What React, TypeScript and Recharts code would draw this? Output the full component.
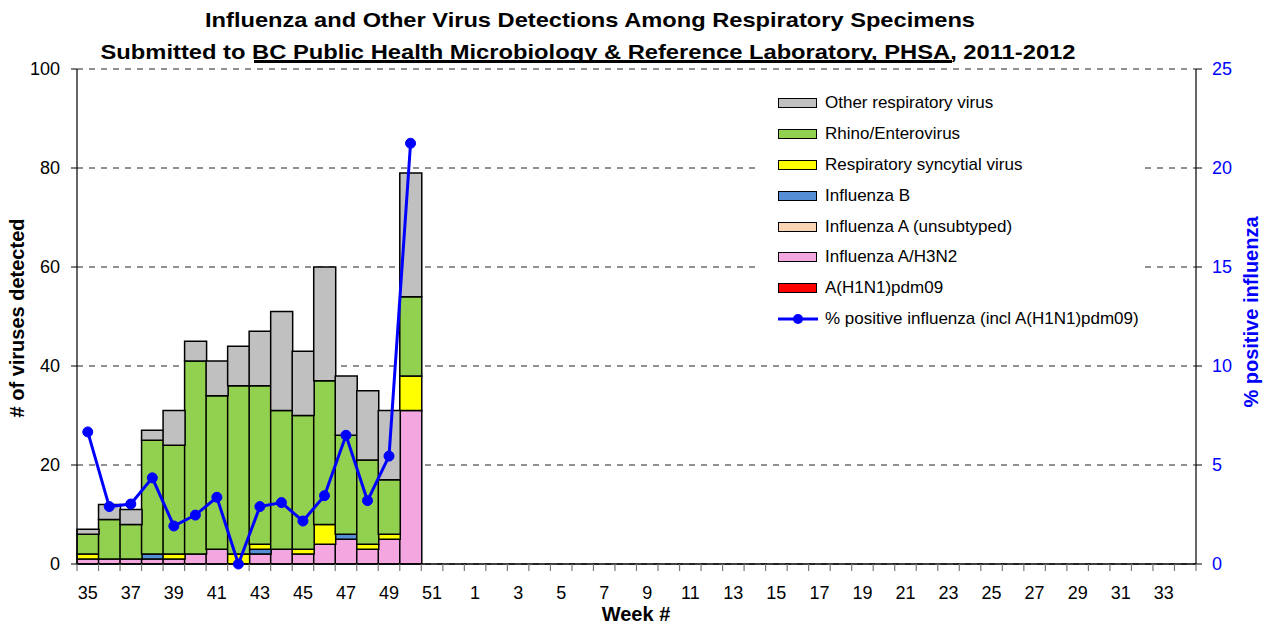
import React from 'react';
import { ComposedChart, Bar, Line, XAxis, YAxis, CartesianGrid, Legend } from 'recharts';

const weeks = [
  '35', '36', '37', '38', '39', '40', '41', '42', '43', '44', '45', '46', '47', '48', '49', '50', '51', '52',
  '1', '2', '3', '4', '5', '6', '7', '8', '9', '10', '11', '12', '13', '14', '15', '16', '17', '18', '19', '20',
  '21', '22', '23', '24', '25', '26', '27', '28', '29', '30', '31', '32', '33', '34',
];

// values for weeks 35..50 (later weeks have no data yet)
const h1n1 = [0, 0, 0, 0, 0, 0, 0, 0, 0, 0, 0, 0, 0, 0, 0, 0];
const h3n2 = [1, 1, 1, 1, 1, 2, 3, 0, 2, 3, 2, 4, 5, 3, 5, 31];
const fluAUnsub = [0, 0, 0, 0, 0, 0, 0, 0, 0, 0, 0, 0, 0, 0, 0, 0];
const fluB = [0, 0, 0, 1, 0, 0, 0, 0, 1, 0, 0, 0, 1, 0, 0, 0];
const rsv = [1, 0, 0, 0, 1, 0, 0, 2, 1, 0, 1, 4, 0, 1, 1, 7];
const rhino = [4, 8, 7, 23, 22, 39, 31, 34, 32, 28, 27, 29, 20, 17, 11, 16];
const other = [1, 3, 3, 2, 7, 4, 7, 8, 11, 20, 13, 23, 12, 14, 14, 25];
const pctPositive = [6.67, 2.9, 3.03, 4.35, 1.92, 2.47, 3.37, 0, 2.9, 3.1, 2.17, 3.45, 6.5, 3.2, 5.45, 21.25];

const leftTicks = [0, 20, 40, 60, 80, 100];
const rightTicks = [0, 5, 10, 15, 20, 25];

const series = [
  { key: 'h1n1', name: 'A(H1N1)pdm09', color: '#FF0000', values: h1n1 },
  { key: 'h3n2', name: 'Influenza A/H3N2', color: '#F3A6DF', values: h3n2 },
  { key: 'fluAUnsub', name: 'Influenza A (unsubtyped)', color: '#FBD4B4', values: fluAUnsub },
  { key: 'fluB', name: 'Influenza B', color: '#558ED5', values: fluB },
  { key: 'rsv', name: 'Respiratory syncytial virus', color: '#FFFF00', values: rsv },
  { key: 'rhino', name: 'Rhino/Enterovirus', color: '#92D050', values: rhino },
  { key: 'other', name: 'Other respiratory virus', color: '#C0C0C0', values: other },
];
const lineName = '% positive influenza (incl A(H1N1)pdm09)';

const data = weeks.map((w, i) => {
  const row: any = { week: w, pct: i < pctPositive.length ? pctPositive[i] : null };
  series.forEach((s) => {
    row[s.key] = i < s.values.length ? s.values[i] : null;
  });
  return row;
});

const W = 1266;
const H = 625;
const LEFT_W = 77;
const RIGHT_W = 70;
const TOP = 69;
const XAXIS_H = 61;
const BAND = (W - LEFT_W - RIGHT_W) / weeks.length;
const FONT = 'Liberation Sans, Arial, Helvetica, sans-serif';

const XTick = (props: any) => {
  const { x, y, payload } = props;
  const idx = payload.index;
  const axisY = y - 8;
  const half = BAND / 2;
  return (
    <g>
      <line x1={x - half} x2={x - half} y1={axisY} y2={axisY + 7} stroke="#777" strokeWidth={1.2} />
      {idx === weeks.length - 1 && (
        <line x1={x + half} x2={x + half} y1={axisY} y2={axisY + 7} stroke="#777" strokeWidth={1.2} />
      )}
      {idx % 2 === 0 && (
        <text x={x} y={axisY + 35} textAnchor="middle" fontSize={18} fill="#000" fontFamily={FONT}>
          {payload.value}
        </text>
      )}
    </g>
  );
};

const LegendContent = () => {
  const rows = [...series].reverse();
  const rowStyle: React.CSSProperties = { height: 30.8, display: 'flex', alignItems: 'center' };
  return (
    <div style={{ fontFamily: FONT, fontSize: 17, color: '#000', paddingLeft: 18 }}>
      {rows.map((s) => (
        <div key={s.key} style={rowStyle}>
          <div
            style={{
              width: 37,
              height: 8,
              background: s.color,
              border: '1.5px solid #000',
              marginRight: 8,
            }}
          />
          <span>{s.name}</span>
        </div>
      ))}
      <div style={rowStyle}>
        <svg width={40} height={12} style={{ marginRight: 7 }}>
          <line x1={0} x2={40} y1={6} y2={6} stroke="#0000FF" strokeWidth={3} />
          <circle cx={20} cy={6} r={5} fill="#0000FF" />
        </svg>
        <span>{lineName}</span>
      </div>
    </div>
  );
};

export default function App() {
  return (
    <div style={{ position: 'absolute', left: 0, top: 0, width: W, height: H, background: '#fff' }}>
      <ComposedChart
        width={W}
        height={H}
        data={data}
        margin={{ top: TOP, right: 0, bottom: 0, left: 0 }}
        barCategoryGap={0}
        barGap={0}
      >
        <CartesianGrid yAxisId="left" vertical={false} stroke="#222" strokeDasharray="6 6" />
        <XAxis
          dataKey="week"
          height={XAXIS_H}
          interval={0}
          tickLine={false}
          tickSize={6}
          tickMargin={2}
          axisLine={{ stroke: '#000', strokeWidth: 1.5 }}
          tick={<XTick />}
        />
        <YAxis
          yAxisId="left"
          width={LEFT_W}
          domain={[0, 100]}
          ticks={leftTicks}
          tickSize={6}
          tickMargin={11}
          axisLine={{ stroke: '#000', strokeWidth: 1.2 }}
          tickLine={{ stroke: '#000' }}
          tick={{ fontSize: 18, fill: '#000', fontFamily: FONT }}
        />
        <YAxis
          yAxisId="right"
          orientation="right"
          width={RIGHT_W}
          domain={[0, 25]}
          ticks={rightTicks}
          tickSize={6}
          tickMargin={10}
          axisLine={{ stroke: '#000', strokeWidth: 1.2 }}
          tickLine={{ stroke: '#000' }}
          tick={{ fontSize: 18, fill: '#0000FF', fontFamily: FONT }}
        />
        {series.map((s) => (
          <Bar
            key={s.key}
            yAxisId="left"
            dataKey={s.key}
            name={s.name}
            stackId="a"
            fill={s.color}
            stroke="#000"
            strokeWidth={1.5}
            isAnimationActive={false}
          />
        ))}
        <Line
          yAxisId="right"
          dataKey="pct"
          name={lineName}
          stroke="#0000FF"
          strokeWidth={3}
          dot={{ r: 5, fill: '#0000FF', stroke: '#0000FF', strokeWidth: 1 }}
          isAnimationActive={false}
        />
        <Legend
          layout="vertical"
          align="center"
          verticalAlign="middle"
          content={<LegendContent />}
          wrapperStyle={{ left: 760, top: 88, width: 380, height: 248, background: '#fff' }}
        />
      </ComposedChart>
      <svg
        width={W}
        height={H}
        style={{ position: 'absolute', left: 0, top: 0, pointerEvents: 'none' }}
      >
        <text x={590} y={27} textAnchor="middle" fontSize={21} fontWeight="bold" fontFamily={FONT} textLength={770} lengthAdjust="spacingAndGlyphs">
          Influenza and Other Virus Detections Among Respiratory Specimens
        </text>
        <text x={588} y={59} textAnchor="middle" fontSize={21} fontWeight="bold" fontFamily={FONT} textLength={975} lengthAdjust="spacingAndGlyphs">
          Submitted to BC Public Health Microbiology &amp; Reference Laboratory, PHSA, 2011-2012
        </text>
        <rect x={254} y={60} width={698} height={3} fill="#000" />
        <text
          transform="translate(24, 318) rotate(-90)"
          textAnchor="middle"
          fontSize={20}
          fontWeight="bold"
          fontFamily={FONT}
          fill="#000"
        >
          # of viruses detected
        </text>
        <text
          transform="translate(1258, 312) rotate(-90)"
          textAnchor="middle"
          fontSize={20}
          fontWeight="bold"
          fontFamily={FONT}
          fill="#0000FF"
        >
          % positive influenza
        </text>
        <text x={636} y={621} textAnchor="middle" fontSize={20} fontWeight="bold" fontFamily={FONT} fill="#000">
          Week #
        </text>
      </svg>
    </div>
  );
}
